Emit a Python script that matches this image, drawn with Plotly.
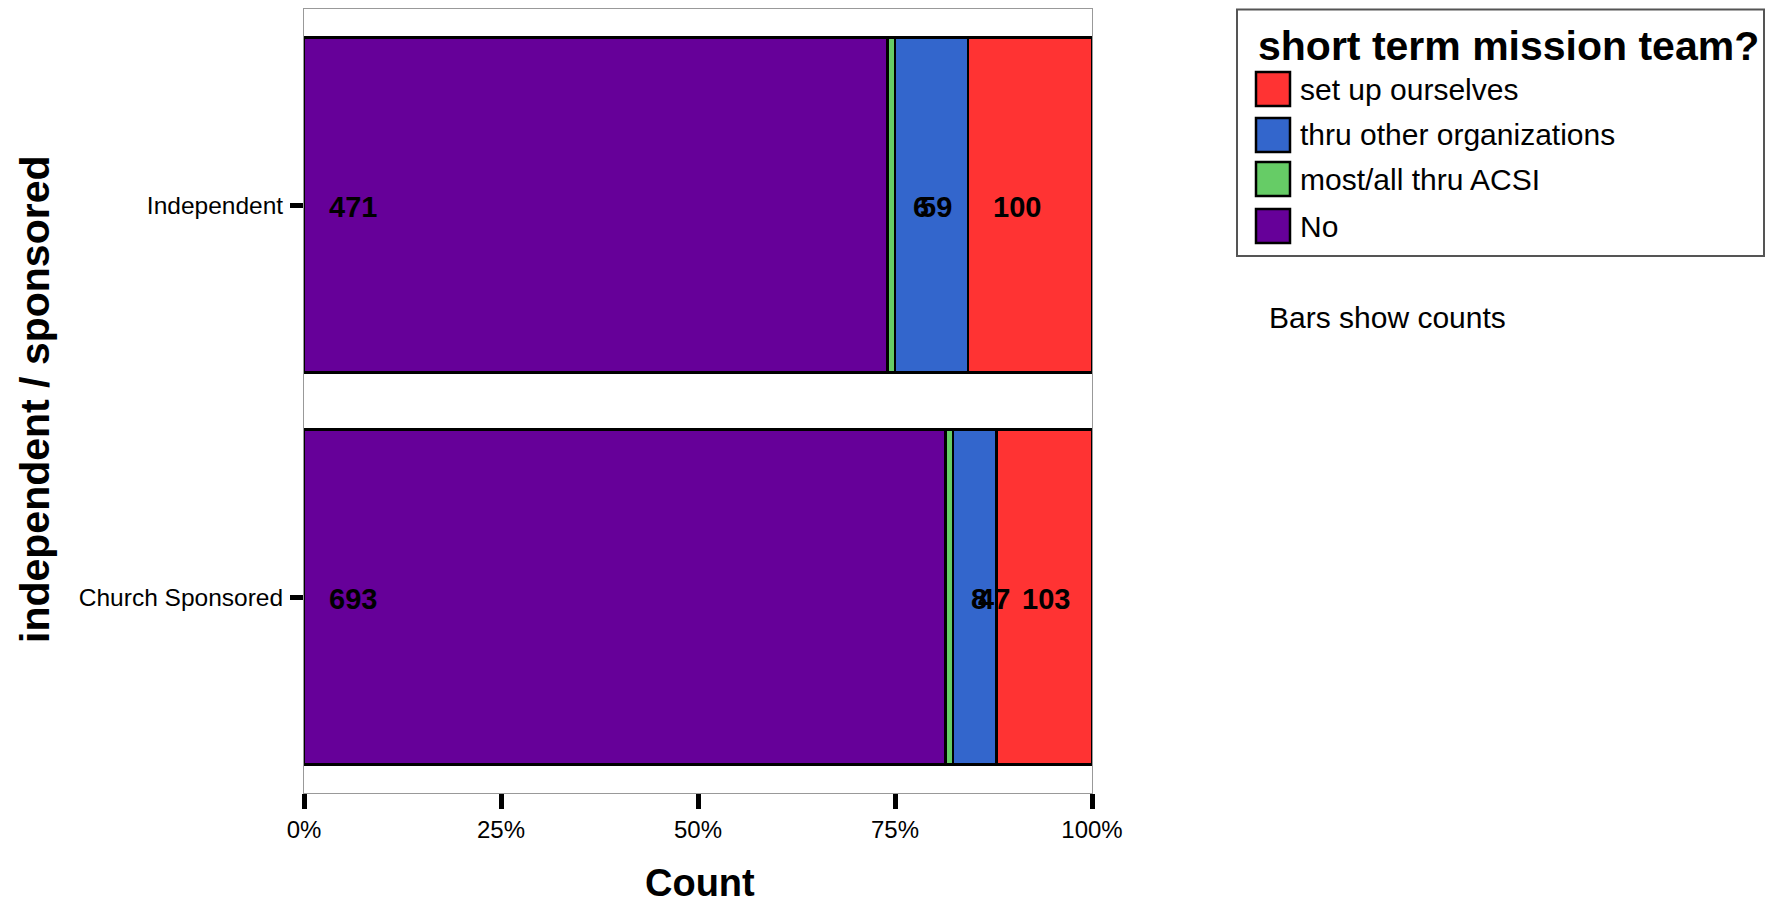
import plotly.graph_objects as go

categories = ["Independent", "Church Sponsored"]
series_names = ["No", "most/all thru ACSI", "thru other organizations", "set up ourselves"]
series_values = {
    "No": [471, 693],
    "most/all thru ACSI": [6, 8],
    "thru other organizations": [59, 47],
    "set up ourselves": [100, 103],
}
series_colors = {
    "No": "#660099",
    "most/all thru ACSI": "#66CC66",
    "thru other organizations": "#3366CC",
    "set up ourselves": "#FF3333",
}
tick_vals = [0, 25, 50, 75, 100]
tick_text = ["0%", "25%", "50%", "75%", "100%"]
legend_title = "short term mission team?"
note_text = "Bars show counts"
x_title = "Count"
y_title = "independent / sponsored"

FONT = "Liberation Sans, Arial, Helvetica, sans-serif"
OFF = 8  # page body margin
W, H = 1774 - 2 * OFF, 914 - 2 * OFF
# plot area in page pixels
L, R, T, B = 304, 1092, 9, 793


def px(x):
    return (x - L) / (R - L)


def py(y):
    return (B - y) / (B - T)


fig = go.Figure()
for name in series_names:
    fig.add_trace(go.Bar(
        y=categories, x=series_values[name], name=name, orientation="h",
        marker=dict(color=series_colors[name], line=dict(color="black", width=2.5)),
        showlegend=False, hoverinfo="x+y+name",
    ))

annotations = []
totals = [sum(series_values[n][i] for n in series_names) for i in range(len(categories))]
for i, cat in enumerate(categories):
    cum = 0
    for name in series_names:
        v = series_values[name][i]
        start = cum / totals[i] * 100
        annotations.append(dict(
            x=start, y=cat, xref="x", yref="y", text=str(v), showarrow=False,
            xanchor="left", yanchor="middle", xshift=23, yshift=-2,
            font=dict(family=FONT, size=29, color="black", weight="bold"),
        ))
        cum += v

# axis titles
annotations.append(dict(x=px(700), y=py(883), xref="paper", yref="paper", text=x_title,
                        showarrow=False, xanchor="center", yanchor="middle", borderpad=0,
                        font=dict(family=FONT, size=38, color="black", weight="bold")))
annotations.append(dict(x=px(35), y=py(400), xref="paper", yref="paper", text=y_title,
                        showarrow=False, xanchor="center", yanchor="middle", textangle=-90,
                        font=dict(family=FONT, size=41, color="black", weight="bold")))

# legend (drawn manually)
shapes = [dict(type="rect", xref="paper", yref="paper", x0=px(1237), x1=px(1764),
               y0=py(9.5), y1=py(256), line=dict(color="#555555", width=2), fillcolor="white")]
annotations.append(dict(x=px(1256), y=py(46), xref="paper", yref="paper", text=legend_title,
                        showarrow=False, xanchor="left", yanchor="middle",
                        font=dict(family=FONT, size=41, color="black", weight="bold")))
legend_order = list(reversed(series_names))
legend_centers = [89, 135, 179, 226]
for name, cy in zip(legend_order, legend_centers):
    shapes.append(dict(type="rect", xref="paper", yref="paper", x0=px(1256), x1=px(1290),
                       y0=py(cy + 17), y1=py(cy - 17), fillcolor=series_colors[name],
                       line=dict(color="black", width=2.5)))
    annotations.append(dict(x=px(1298), y=py(cy), xref="paper", yref="paper", text=name,
                            showarrow=False, xanchor="left", yanchor="middle",
                            font=dict(family=FONT, size=30, color="black")))
annotations.append(dict(x=px(1267), y=py(317), xref="paper", yref="paper", text=note_text,
                        showarrow=False, xanchor="left", yanchor="middle",
                        font=dict(family=FONT, size=30, color="black")))

fig.update_layout(
    width=W, height=H,
    margin=dict(l=L - OFF, r=W - (R - OFF), t=T - OFF, b=H - (B - OFF), autoexpand=False),
    barmode="stack", barnorm="percent", bargap=0.145,
    plot_bgcolor="white", paper_bgcolor="white",
    annotations=annotations, shapes=shapes,
    showlegend=False,
    font=dict(family=FONT, color="black"),
)
fig.update_xaxes(
    range=[0, 100], tickvals=tick_vals, ticktext=tick_text,
    showgrid=False, zeroline=False, showline=True, mirror=True,
    linecolor="#999999", linewidth=1,
    ticks="outside", ticklen=15, tickwidth=5, tickcolor="black",
    tickfont=dict(family=FONT, size=24, color="black"),
    ticklabelstandoff=0, fixedrange=True,
)
fig.update_yaxes(
    type="category", categoryorder="array", categoryarray=categories,
    autorange="reversed", showgrid=False, zeroline=False, showline=True, mirror=True,
    linecolor="#999999", linewidth=1,
    ticks="outside", ticklen=13, tickwidth=5, tickcolor="black",
    tickfont=dict(family=FONT, size=24.5, color="black"),
    ticklabelstandoff=2, fixedrange=True,
)

fig.write_html("out.html", config={"displayModeBar": False})
